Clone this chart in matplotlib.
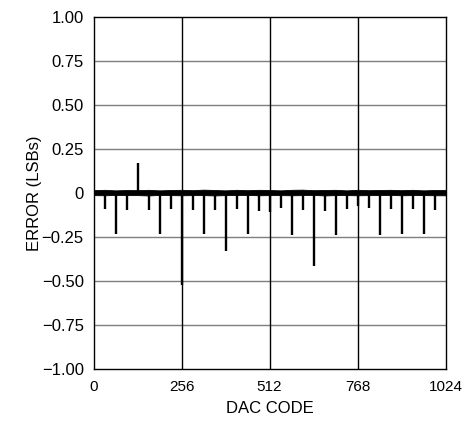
import matplotlib
matplotlib.use("Agg")
import matplotlib.pyplot as plt
import numpy as np

# ---- data ----
spike_codes = [32, 64, 96, 128, 160, 192, 224, 256, 288, 320, 352, 384, 416, 448, 480, 512,
               544, 576, 608, 640, 672, 704, 736, 768, 800, 832, 864, 896, 928, 960, 992]
spike_err = [-0.09, -0.235, -0.095, 0.17, -0.095, -0.235, -0.09, -0.52, -0.095, -0.235, -0.095, -0.33,
             -0.09, -0.235, -0.10, -0.11, -0.087, -0.24, -0.097, -0.415, -0.10, -0.24, -0.09, -0.074,
             -0.087, -0.24, -0.09, -0.235, -0.09, -0.235, -0.097]
# noise envelope read at 32-code steps
seg_codes = [0, 32, 64, 96, 128, 160, 192, 224, 256, 288, 320, 352, 384, 416, 448, 480,
             512, 544, 576, 608, 640, 672, 704, 736, 768, 800, 832, 864, 896, 928, 960, 992, 1024]
band_hi = [0.016, 0.018, 0.015, 0.017, 0.016, 0.018, 0.015, 0.017, 0.018, 0.016, 0.019, 0.017,
           0.015, 0.018, 0.016, 0.018, 0.017, 0.015, 0.018, 0.019, 0.016, 0.017, 0.018, 0.015,
           0.018, 0.016, 0.017, 0.018, 0.016, 0.018, 0.015, 0.017, 0.017]
band_lo = [-0.012, -0.013, -0.011, -0.012, -0.012, -0.014, -0.011, -0.012, -0.013, -0.012, -0.012,
           -0.014, -0.012, -0.012, -0.011, -0.013, -0.012, -0.012, -0.013, -0.012, -0.011, -0.014,
           -0.012, -0.012, -0.013, -0.012, -0.012, -0.011, -0.013, -0.012, -0.012, -0.013, -0.013]
xticks = [0, 256, 512, 768, 1024]
xtick_labels = ["0", "256", "512", "768", "1024"]
yticks = [1.0, 0.75, 0.5, 0.25, 0.0, -0.25, -0.5, -0.75, -1.0]
ytick_labels = ["1.00", "0.75", "0.50", "0.25", "0", "\u22120.25", "\u22120.50", "\u22120.75", "\u22121.00"]

plt.rcParams['font.family'] = ['Liberation Sans Narrow', 'Liberation Sans', 'DejaVu Sans']

fig = plt.figure(figsize=(4.62, 4.23), dpi=100)
ax = fig.add_axes([0.2024, 0.1277, 0.7619, 0.8321])

ax.set_xlim(0, 1024)
ax.set_ylim(-1.0, 1.0)

# grid
for y in yticks[1:-1]:
    ax.axhline(y, color="#7f7f7f", lw=1.0, zorder=1)
for x in xticks[1:-1]:
    ax.axvline(x, color="black", lw=1.0, zorder=1)

# noise band
ax.fill_between(seg_codes, band_lo, band_hi, color="black", lw=0.6, edgecolor="black", zorder=3)

# spikes
ax.vlines(spike_codes, 0, spike_err, colors="black", lw=1.7, zorder=4)

ax.set_xticks(xticks)
ax.set_xticklabels(xtick_labels)
ax.set_yticks(yticks)
ax.set_yticklabels(ytick_labels)
ax.tick_params(length=0, pad=7)
ax.tick_params(axis="y", labelsize=12)
ax.tick_params(axis="x", labelsize=11, pad=8)
for s in ax.spines.values():
    s.set_linewidth(1.0)
    s.set_color("black")

ax.set_xlabel("DAC CODE", fontsize=12, labelpad=5)
ax.set_ylabel("ERROR (LSBs)", fontsize=12)
ax.yaxis.set_label_coords(-0.146, 0.5)

fig.savefig("out.png", dpi=100)
